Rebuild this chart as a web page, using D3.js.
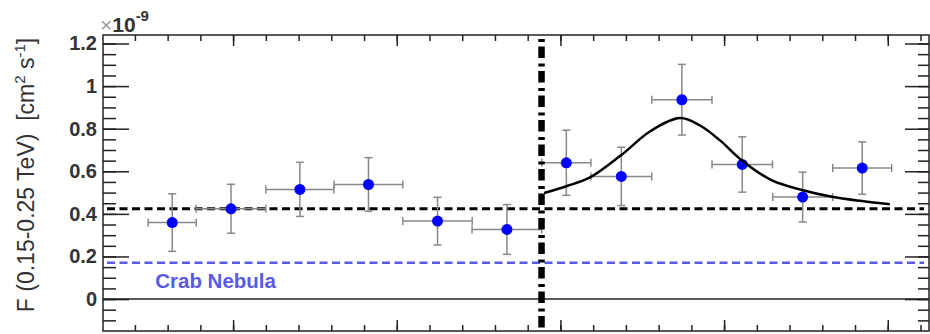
<!DOCTYPE html>
<html>
<head>
<meta charset="utf-8">
<script src="https://cdn.jsdelivr.net/npm/d3@7"></script>
<style>
  body { margin: 0; background: #fff; }
  svg text { font-family: "Liberation Sans", Arial, sans-serif; }
</style>
</head>
<body>
<div id="chart"></div>
<script>
// time bins (arbitrary units, one major tick = 1), flux in 1e-9 cm^-2 s^-1
var binCenter = [-0.372, -0.013, 0.408, 0.827, 1.249, 1.673, 2.036, 2.372, 2.742, 3.111, 3.480, 3.844]
var binHalf   = [0.147, 0.213, 0.208, 0.210, 0.212, 0.213, 0.150, 0.186, 0.184, 0.185, 0.183, 0.180]
var flux      = [0.359, 0.424, 0.515, 0.538, 0.366, 0.327, 0.640, 0.576, 0.936, 0.632, 0.479, 0.615]
var fluxErr   = [0.135, 0.115, 0.127, 0.126, 0.112, 0.117, 0.153, 0.137, 0.166, 0.130, 0.117, 0.123]

// fitted flare curve
var fitT = [1.900, 2.040, 2.181, 2.370, 2.547, 2.731, 2.853, 2.975, 3.109, 3.293, 3.476, 3.659, 3.842, 4.013]
var fitF = [0.498, 0.531, 0.571, 0.675, 0.787, 0.850, 0.815, 0.745, 0.651, 0.557, 0.512, 0.480, 0.460, 0.445]

var meanLevel = 0.4235
var crabLevel = 0.170
var splitTime = 1.8845

var yTicks = [0, 0.2, 0.4, 0.6, 0.8, 1, 1.2]
var yTickLabels = ["0", "0.2", "0.4", "0.6", "0.8", "1", "1.2"]
var yMinor = d3.range(-0.10, 1.24, 0.05)
var xMajor = [0, 1, 2, 3, 4]
var xMinor = d3.range(-0.6, 4.25, 0.2)

var W = 930, H = 334
var margin = {top: 35, right: 1, bottom: 3, left: 103}

var svg = d3.select("#chart").append("svg")
    .attr("width", W)
    .attr("height", H)

var x = d3.scaleLinear()
    .domain([-0.795, 4.252])
    .range([margin.left, W - margin.right])

var y = d3.scaleLinear()
    .domain([-0.15, 1.24])
    .range([H - margin.bottom, margin.top])

var ink = "#222"

// axes (ticks point into the frame)
function styleAxis(g) {
  g.select(".domain").remove()
  g.selectAll(".tick line").attr("stroke", ink).attr("stroke-width", 1.5)
}

svg.append("g")
    .attr("transform", "translate(" + x.range()[0] + ",0)")
    .call(d3.axisLeft(y).tickValues(yMinor).tickSize(-13).tickFormat(""))
    .call(styleAxis)

svg.append("g")
    .attr("transform", "translate(" + x.range()[0] + ",0)")
    .call(d3.axisLeft(y).tickValues(yTicks).tickSize(-26).tickPadding(6)
      .tickFormat(function(d, i) { return yTickLabels[i] }))
    .call(styleAxis)
    .selectAll("text")
      .attr("fill", "#333")
      .style("font-size", "20px")
      .style("font-weight", "bold")

svg.append("g")
    .attr("transform", "translate(" + x.range()[1] + ",0)")
    .call(d3.axisRight(y).tickValues(yMinor).tickSize(-11).tickFormat(""))
    .call(styleAxis)

svg.append("g")
    .attr("transform", "translate(" + x.range()[1] + ",0)")
    .call(d3.axisRight(y).tickValues(yTicks).tickSize(-24).tickFormat(""))
    .call(styleAxis)

;[[d3.axisTop, y.range()[1]], [d3.axisBottom, y.range()[0]]].forEach(function(a) {
  svg.append("g")
      .attr("transform", "translate(0," + a[1] + ")")
      .call(a[0](x).tickValues(xMinor).tickSize(-6).tickFormat(""))
      .call(styleAxis)
  svg.append("g")
      .attr("transform", "translate(0," + a[1] + ")")
      .call(a[0](x).tickValues(xMajor).tickSize(-11).tickFormat(""))
      .call(styleAxis)
})

// zero line
svg.append("line")
    .attr("x1", x.range()[0]).attr("x2", x.range()[1])
    .attr("y1", y(0)).attr("y2", y(0))
    .attr("stroke", ink).attr("stroke-width", 1.5)

// crab nebula level
svg.append("line")
    .attr("x1", x.range()[0] + 4).attr("x2", x.range()[1] - 5)
    .attr("y1", y(crabLevel)).attr("y2", y(crabLevel))
    .attr("stroke", "#5a5ae6").attr("stroke-width", 2.5)
    .attr("stroke-dasharray", "8,4.5")

svg.append("text")
    .attr("x", x(-0.476))
    .attr("y", y(0.0535))
    .attr("fill", "#5a5ae6")
    .style("font-size", "20.5px")
    .style("font-weight", "bold")
    .text("Crab Nebula")

// mean flux level
svg.append("line")
    .attr("x1", x.range()[0] + 4).attr("x2", x.range()[1] - 5)
    .attr("y1", y(meanLevel)).attr("y2", y(meanLevel))
    .attr("stroke", "#000").attr("stroke-width", 3)
    .attr("stroke-dasharray", "8,4.5")

// error bars
var pts = binCenter.map(function(c, i) {
  return {t: c, dt: binHalf[i], f: flux[i], df: fluxErr[i]}
})
var cap = 4
var bars = svg.append("g").attr("stroke", "#888").attr("stroke-width", 1.5)

pts.forEach(function(d) {
  bars.append("line")
      .attr("x1", x(d.t - d.dt)).attr("x2", x(d.t + d.dt))
      .attr("y1", y(d.f)).attr("y2", y(d.f))
  bars.append("line")
      .attr("x1", x(d.t)).attr("x2", x(d.t))
      .attr("y1", y(d.f - d.df)).attr("y2", y(d.f + d.df))
  ;[d.t - d.dt, d.t + d.dt].forEach(function(e) {
    bars.append("line")
        .attr("x1", x(e)).attr("x2", x(e))
        .attr("y1", y(d.f) - cap).attr("y2", y(d.f) + cap)
  })
  ;[d.f - d.df, d.f + d.df].forEach(function(e) {
    bars.append("line")
        .attr("x1", x(d.t) - cap).attr("x2", x(d.t) + cap)
        .attr("y1", y(e)).attr("y2", y(e))
  })
})

svg.append("g").selectAll("circle")
    .data(pts)
  .enter().append("circle")
    .attr("cx", function(d) { return x(d.t) })
    .attr("cy", function(d) { return y(d.f) })
    .attr("r", 5.5)
    .attr("fill", "#0000ff")

// flare fit
var line = d3.line()
    .x(function(d, i) { return x(fitT[i]) })
    .y(function(d, i) { return y(fitF[i]) })
    .curve(d3.curveCatmullRom.alpha(0.5))

svg.append("path")
    .attr("d", line(fitT))
    .attr("fill", "none")
    .attr("stroke", "#000")
    .attr("stroke-width", 2.5)

// split line
svg.append("line")
    .attr("x1", x(splitTime)).attr("x2", x(splitTime))
    .attr("y1", y.range()[1]).attr("y2", y.range()[0])
    .attr("stroke", "#000").attr("stroke-width", 6.5)
    .attr("stroke-dasharray", "11.5,5.5,3,4.5")
    .attr("stroke-dashoffset", 13)

// frame
svg.append("rect")
    .attr("x", x.range()[0]).attr("y", y.range()[1])
    .attr("width", x.range()[1] - x.range()[0])
    .attr("height", y.range()[0] - y.range()[1])
    .attr("fill", "none")
    .attr("stroke", ink).attr("stroke-width", 1.5)

// exponent
var ex = svg.append("text")
    .attr("x", 100)
    .attr("y", 32)
    .style("font-size", "21px")
ex.append("tspan").attr("fill", "#999").text("\u00d7")
ex.append("tspan").attr("fill", "#333").style("font-weight", "bold").text("10")
ex.append("tspan").attr("fill", "#333").style("font-weight", "bold")
    .style("font-size", "15px").attr("dy", -11).text("-9")

// y title
var title = svg.append("text")
    .attr("transform", "translate(34," + 175 + ") rotate(-90)")
    .attr("text-anchor", "middle")
    .attr("fill", "#333")
    .style("font-size", "23px")
title.append("tspan").text("F (0.15-0.25 TeV)\u00a0\u00a0[cm")
title.append("tspan").style("font-size", "15px").attr("dy", -9).text("2")
title.append("tspan").attr("dy", 9).text(" s")
title.append("tspan").style("font-size", "15px").attr("dy", -9).text("-1")
title.append("tspan").attr("dy", 9).text("]")
</script>
</body>
</html>
